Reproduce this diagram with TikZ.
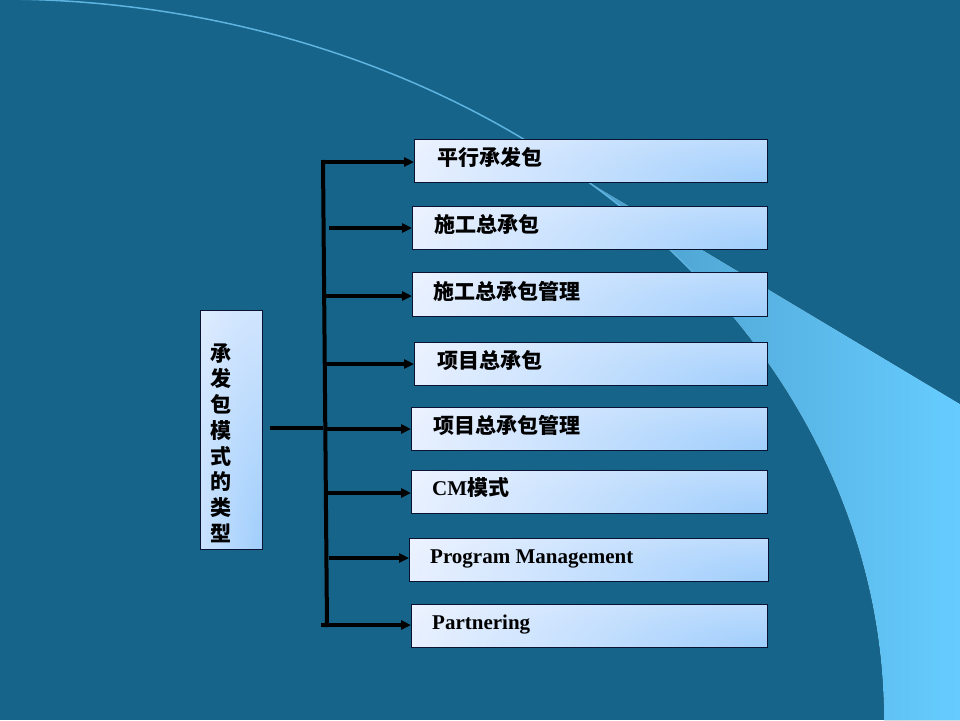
\documentclass[tikz,border=0pt]{standalone}
\usepackage{fontspec}
\setmainfont{Liberation Serif}
\newfontfamily\cjk{Noto Sans CJK SC}
\usetikzlibrary{arrows.meta,calc}
\definecolor{bg}{RGB}{22,100,138}
\definecolor{lightL}{RGB}{74,156,200}
\definecolor{lightR}{RGB}{102,204,255}
\definecolor{arcline}{RGB}{93,180,224}
\definecolor{boxA}{RGB}{240,244,255}
\definecolor{boxB}{RGB}{160,206,252}
\definecolor{edge}{RGB}{10,20,50}
\begin{document}
\begin{tikzpicture}[x=1pt,y=-1pt,
  boxbase/.style={draw=edge, line width=1pt, fill=boxA, anchor=north west, inner sep=0pt},
  item/.style={boxbase, minimum height=43pt,
    path picture={\shade[inner color=boxB, outer color=boxA]
      (path picture bounding box.south east) ellipse [x radius=400pt, y radius=115pt];}},
  cjklbl/.style={anchor=west, inner sep=0pt, font=\fontsize{21}{25}\selectfont\cjk\bfseries},
  latlbl/.style={anchor=base west, inner sep=0pt, font=\fontsize{21}{25}\selectfont\bfseries},
  trunk/.style={line width=4pt, draw=black},
  arr/.style={line width=3.5pt, draw=black, -{Triangle[length=10pt,width=9pt]}},
  link/.style={line width=4pt, draw=black}
]
\useasboundingbox (0,0) rectangle (960,720);
\fill[bg] (0,0) rectangle (960,720);
% light region
\fill[left color=lightL, right color=lightR]
  plot[domain=48.5:0, samples=60] ({884*cos(\x)},{720-721*sin(\x)}) -- (960,720) -- (960,404) -- cycle;
\draw[arcline, line width=1.5pt]
  plot[domain=90:34, samples=90] ({884*cos(\x)},{720-721*sin(\x)});

% left box
\node[boxbase, minimum width=62pt, minimum height=239pt,
  path picture={\shade[inner color=boxB, outer color=boxA]
    (path picture bounding box.south east) ellipse [x radius=120pt, y radius=400pt];}] (L) at (200,310) {};
\node[font=\fontsize{21}{25.7}\selectfont\cjk\bfseries, align=center, inner sep=0pt] (Ltext) at (221,443)
  {承\\发\\包\\模\\式\\的\\类\\型};

% item boxes
\node[item, minimum width=353pt] (b1) at (414,139) {};
\node[item, minimum width=355pt] (b2) at (412,206) {};
\node[item, minimum width=355pt, minimum height=44pt] (b3) at (412,272) {};
\node[item, minimum width=353pt] (b4) at (414,342) {};
\node[item, minimum width=356pt] (b5) at (411,407) {};
\node[item, minimum width=356pt] (b6) at (411,470) {};
\node[item, minimum width=359pt] (b7) at (409,538) {};
\node[item, minimum width=356pt] (b8) at (411,604) {};

% labels
\node[cjklbl] (t1) at ([xshift=23pt,yshift=3.5pt]b1.west) {平行承发包};
\node[cjklbl] (t2) at ([xshift=22pt,yshift=3.5pt]b2.west) {施工总承包};
\node[cjklbl] (t3) at ([xshift=21pt,yshift=3.5pt]b3.west) {施工总承包管理};
\node[cjklbl] (t4) at ([xshift=23pt,yshift=3.5pt]b4.west) {项目总承包};
\node[cjklbl] (t5) at ([xshift=22pt,yshift=3.5pt]b5.west) {项目总承包管理};
\node[latlbl] (t6) at ([xshift=21pt,yshift=-3.5pt]b6.west) {CM{\cjk\bfseries 模式}};
\node[latlbl] (t7) at ([xshift=21pt,yshift=-3.5pt]b7.west) {Program Management};
\node[latlbl] (t8) at ([xshift=21pt,yshift=-3pt]b8.west) {Partnering};

% trunk
\coordinate (ttop) at (323,160);
\coordinate (tbot) at (327,627);
\draw[trunk] (ttop) -- (tbot);
\coordinate (j) at (323,428);
\draw[link] ([xshift=7pt]L.east |- j) -- (j);

\coordinate (s1) at (323,162); \draw[arr] (s1) -- (s1 -| b1.west);
\coordinate (s2) at (329,228); \draw[arr] (s2) -- (s2 -| b2.west);
\coordinate (s3) at (325,296); \draw[arr] (s3) -- (s3 -| b3.west);
\coordinate (s4) at (325,364); \draw[arr] (s4) -- (s4 -| b4.west);
\coordinate (s5) at (325,429); \draw[arr] (s5) -- (s5 -| b5.west);
\coordinate (s6) at (327,493); \draw[arr] (s6) -- (s6 -| b6.west);
\coordinate (s7) at (329,558); \draw[arr] (s7) -- (s7 -| b7.west);
\coordinate (s8) at (321,625); \draw[arr] (s8) -- (s8 -| b8.west);
\end{tikzpicture}
\end{document}
